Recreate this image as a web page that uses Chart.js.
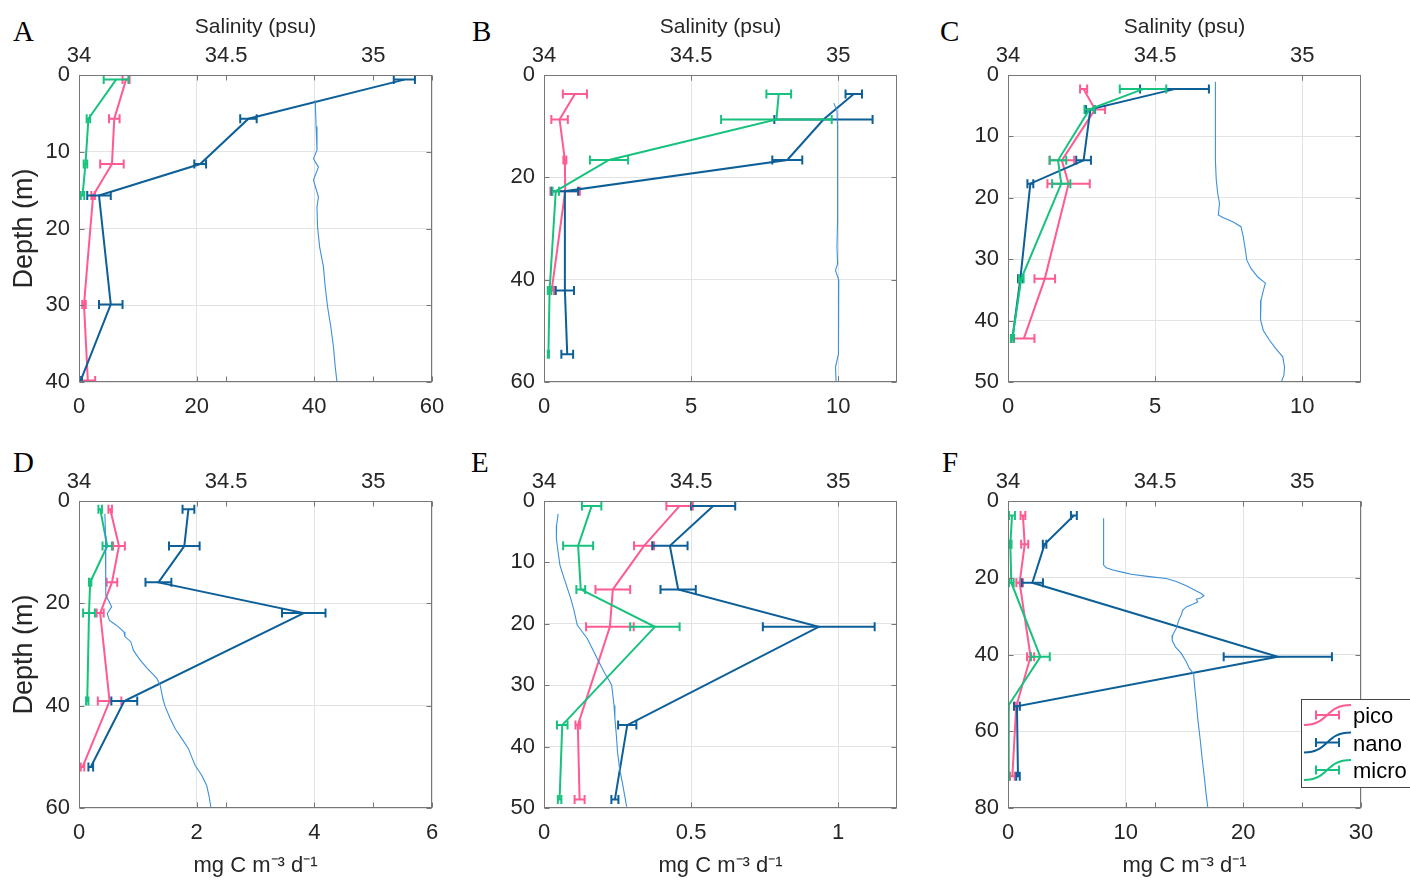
<!DOCTYPE html>
<html>
<head>
<meta charset="utf-8">
<script src="https://cdn.jsdelivr.net/npm/chart.js@4.4.1/dist/chart.umd.min.js"></script>
<style>
  body { margin: 0; background: #fff; width: 1410px; height: 880px; overflow: hidden; position: relative; }
  .tag { position: absolute; font-family: "Liberation Serif", "Times New Roman", serif; font-size: 29px; line-height: 1; color: #000; }
</style>
</head>
<body>
<div class="tag" style="left:13px;top:17px">A</div>
<div class="tag" style="left:472px;top:17px">B</div>
<div class="tag" style="left:940px;top:17px">C</div>
<div class="tag" style="left:13px;top:448px">D</div>
<div class="tag" style="left:471px;top:448px">E</div>
<div class="tag" style="left:942px;top:448px">F</div>
<script>
// ===== DATA =====
// sampling depth (m), rates (mg C m-3 d-1) with +/- error, CTD salinity profile (psu)

// A
const depthA = [0.6, 5.7, 11.6, 15.7, 29.9, 39.8];
const picoA = [8.0, 6.0, 5.6, 2.4, 0.85, 1.5];
const picoErrA = [0.6, 0.9, 2.0, 0.3, 0.3, 1.25];
const nanoA = [55.3, 28.8, 20.6, 3.4, 5.4, 0.3];
const nanoErrA = [1.8, 1.4, 1.0, 2.0, 2.0, 0.2];
const microA = [6.3, 1.6, 1.1, 0.6, null, null];
const microErrA = [2.1, 0.3, 0.3, 0.3, null, null];
const salDepthA = [3.3, 6.7, 9.8, 10.9, 12.0, 13.7, 15.9, 17.2, 19.8, 22.4, 25.0, 27.6, 30.2, 32.8, 35.4, 38.0, 40.0];
const salA = [34.803, 34.806, 34.809, 34.797, 34.814, 34.797, 34.814, 34.809, 34.811, 34.818, 34.831, 34.837, 34.845, 34.856, 34.865, 34.871, 34.877];

// B
const depthB = [3.7, 8.7, 16.6, 22.7, 42.1, 54.6];
const picoB = [1.05, 0.53, 0.71, 0.72, 0.26, null];
const picoErrB = [0.41, 0.28, 0.05, 0.5, 0.08, null];
const nanoB = [10.53, 9.5, 8.27, 0.71, 0.71, 0.79];
const nanoErrB = [0.28, 1.67, 0.51, 0.45, 0.31, 0.2];
const microB = [7.98, 7.9, 2.21, 0.4, 0.19, 0.15];
const microErrB = [0.42, 1.88, 0.65, 0.11, 0.06, 0.02];
const salDepthB = [5.5, 6.9, 10.1, 16.6, 23.2, 28.4, 33.6, 36.9, 38.2, 40.1, 42.7, 46.6, 50.5, 54.5, 57.1, 60];
const salB = [34.985, 34.996, 34.998, 34.998, 34.998, 34.998, 34.996, 34.998, 34.991, 35.002, 35.0, 35.002, 35.002, 35.0, 34.991, 34.993];

// C
const depthC = [2.3, 5.6, 13.9, 17.7, 33.2, 42.9];
const picoC = [2.57, 2.96, 1.83, 2.06, 1.25, 0.54];
const picoErrC = [0.12, 0.34, 0.42, 0.72, 0.35, 0.36];
const nanoC = [5.66, 2.8, 2.57, 0.76, 0.42, 0.15];
const nanoErrC = [1.17, 0.15, 0.25, 0.1, 0.08, 0.05];
const microC = [4.59, 2.77, 1.70, 1.81, 0.45, 0.15];
const microErrC = [0.79, 0.17, 0.28, 0.31, 0.08, 0.05];
const salDepthC = [1.1, 5.7, 13.9, 17.1, 19.3, 20.9, 22.8, 23.2, 23.9, 24.7, 26.4, 28.5, 30.2, 31.5, 32.9, 33.9, 35.1, 36.7, 38.3, 39.9, 41.6, 43.2, 44.6, 45.9, 47.6, 48.9, 50];
const salC = [34.705, 34.705, 34.705, 34.708, 34.713, 34.719, 34.715, 34.730, 34.764, 34.792, 34.800, 34.807, 34.812, 34.826, 34.849, 34.875, 34.868, 34.860, 34.857, 34.860, 34.868, 34.889, 34.911, 34.934, 34.940, 34.938, 34.929];

// D
const depthD = [1.6, 8.8, 15.9, 21.9, 39.1, 52.0];
const picoD = [0.53, 0.68, 0.56, 0.36, 0.52, 0.06];
const picoErrD = [0.03, 0.1, 0.09, 0.06, 0.2, 0.03];
const nanoD = [1.86, 1.79, 1.35, 3.82, 0.77, 0.2];
const nanoErrD = [0.1, 0.26, 0.22, 0.37, 0.22, 0.04];
const microD = [0.36, 0.48, 0.19, 0.17, 0.14, null];
const microErrD = [0.03, 0.08, 0.02, 0.1, 0.02, null];
const salDepthD = [2.5, 6.7, 13.2, 18.4, 19.4, 20.7, 22.0, 23.3, 23.9, 24.6, 25.6, 26.5, 27.5, 29.2, 31.1, 32.7, 34.6, 36.0, 38.6, 40.2, 42.5, 44.5, 46.4, 48.4, 50.0, 51.7, 53.6, 55.6, 57.9, 59.8];
const salD = [34.088, 34.090, 34.091, 34.091, 34.100, 34.111, 34.096, 34.103, 34.117, 34.134, 34.153, 34.156, 34.176, 34.185, 34.208, 34.232, 34.264, 34.276, 34.285, 34.293, 34.310, 34.327, 34.349, 34.372, 34.383, 34.395, 34.417, 34.434, 34.443, 34.448];

// E
const depthE = [0.8, 7.3, 14.4, 20.5, 36.5, 48.6];
const picoE = [0.461, 0.340, 0.234, 0.224, 0.115, 0.121];
const picoErrE = [0.045, 0.034, 0.059, 0.081, 0.008, 0.017];
const nanoE = [0.575, 0.428, 0.456, 0.934, 0.283, 0.241];
const nanoErrE = [0.075, 0.06, 0.06, 0.19, 0.031, 0.012];
const microE = [0.162, 0.116, 0.125, 0.377, 0.062, 0.053];
const microErrE = [0.033, 0.051, 0.015, 0.084, 0.018, 0.006];
const salDepthE = [2.1, 3.9, 6.1, 8.3, 10.4, 12.1, 13.7, 15.9, 17.8, 19.1, 20.2, 21.3, 22.4, 24.6, 25.7, 26.7, 28.1, 29.2, 30.0, 31.6, 33.3, 35.4, 38.2, 40.9, 43.6, 45.8, 47.9, 49.8];
const salE = [34.048, 34.043, 34.042, 34.048, 34.054, 34.065, 34.076, 34.091, 34.102, 34.108, 34.113, 34.130, 34.147, 34.170, 34.181, 34.192, 34.207, 34.221, 34.230, 34.234, 34.238, 34.241, 34.246, 34.250, 34.257, 34.266, 34.274, 34.281];

// F
const depthF = [3.8, 11.3, 21.3, 40.6, 53.5, 71.7];
const picoF = [1.27, 1.42, 0.99, 1.92, 0.7, 0.37];
const picoErrF = [0.2, 0.3, 0.28, 0.3, 0.1, 0.2];
const nanoF = [5.6, 3.11, 2.07, 22.93, 0.76, 0.85];
const nanoErrF = [0.25, 0.15, 0.9, 4.6, 0.25, 0.15];
const microF = [0.34, 0.2, 0.28, 2.75, 0.0, 0.06];
const microErrF = [0.25, 0.1, 0.2, 0.8, 0.05, 0.05];
const salDepthF = [4.5, 11.5, 16.7, 17.4, 18.0, 18.6, 19.1, 19.7, 20.2, 21.0, 22.1, 23.2, 24.1, 24.7, 25.2, 25.6, 26.3, 26.9, 27.6, 28.4, 29.7, 30.6, 31.9, 33.2, 34.9, 36.3, 38.0, 39.7, 41.9, 43.7, 45.0, 48.0, 52.3, 56.7, 61.9, 67.1, 72.3, 76.7, 79.7];
const salF = [34.325, 34.325, 34.325, 34.334, 34.357, 34.391, 34.419, 34.481, 34.538, 34.572, 34.606, 34.634, 34.657, 34.666, 34.657, 34.640, 34.645, 34.628, 34.606, 34.594, 34.589, 34.583, 34.577, 34.572, 34.560, 34.558, 34.569, 34.589, 34.606, 34.617, 34.631, 34.634, 34.640, 34.645, 34.653, 34.660, 34.668, 34.674, 34.679];

// axis ticks
const salTicks = [34, 34.5, 35];
const xTicksA = [0, 20, 40, 60], yTicksA = [0, 10, 20, 30, 40];
const xTicksB = [0, 5, 10],      yTicksB = [0, 20, 40, 60];
const xTicksC = [0, 5, 10],      yTicksC = [0, 10, 20, 30, 40, 50];
const xTicksD = [0, 2, 4, 6],    yTicksD = [0, 20, 40, 60];
const xTicksE = [0, 0.5, 1],     yTicksE = [0, 10, 20, 30, 40, 50];
const xTicksF = [0, 10, 20, 30], yTicksF = [0, 20, 40, 60, 80];

const panels = [
  { tag: 'A', col: 0, row: 0, xMax: 60,  yMax: 40, xTicks: xTicksA, yTicks: yTicksA, depth: depthA, pico: picoA, picoErr: picoErrA, nano: nanoA, nanoErr: nanoErrA, micro: microA, microErr: microErrA, salDepth: salDepthA, sal: salA },
  { tag: 'B', col: 1, row: 0, xMax: 12,  yMax: 60, xTicks: xTicksB, yTicks: yTicksB, depth: depthB, pico: picoB, picoErr: picoErrB, nano: nanoB, nanoErr: nanoErrB, micro: microB, microErr: microErrB, salDepth: salDepthB, sal: salB },
  { tag: 'C', col: 2, row: 0, xMax: 12,  yMax: 50, xTicks: xTicksC, yTicks: yTicksC, depth: depthC, pico: picoC, picoErr: picoErrC, nano: nanoC, nanoErr: nanoErrC, micro: microC, microErr: microErrC, salDepth: salDepthC, sal: salC },
  { tag: 'D', col: 0, row: 1, xMax: 6,   yMax: 60, xTicks: xTicksD, yTicks: yTicksD, depth: depthD, pico: picoD, picoErr: picoErrD, nano: nanoD, nanoErr: nanoErrD, micro: microD, microErr: microErrD, salDepth: salDepthD, sal: salD },
  { tag: 'E', col: 1, row: 1, xMax: 1.2, yMax: 50, xTicks: xTicksE, yTicks: yTicksE, depth: depthE, pico: picoE, picoErr: picoErrE, nano: nanoE, nanoErr: nanoErrE, micro: microE, microErr: microErrE, salDepth: salDepthE, sal: salE },
  { tag: 'F', col: 2, row: 1, xMax: 30,  yMax: 80, xTicks: xTicksF, yTicks: yTicksF, depth: depthF, pico: picoF, picoErr: picoErrF, nano: nanoF, nanoErr: nanoErrF, micro: microF, microErr: microErrF, salDepth: salDepthF, sal: salF },
];

// ===== STYLE =====
const PICO = '#ff5a92', NANO = '#0d5f98', MICRO = '#17c27e', SAL = '#3d90d9';
const GRID = '#e3e3e3', FRAME = '#777777', TXT = '#262626';
const FONT = '"Liberation Sans", Arial, Helvetica, sans-serif';
const colLeft = [79, 544, 1008], rowTop = [75, 501];
const PW = 353, PH = 307, AX_L = 75, AX_T = 75, PAD_R = 50;

// horizontal error bars, drawn right after their own series
const errBars = {
  id: 'errBars',
  afterDatasetDraw(chart, args) {
    const ds = chart.data.datasets[args.index];
    if (!ds.withErr) return;
    const { ctx, chartArea: a, scales: { x, y } } = chart;
    ctx.save();
    ctx.beginPath(); ctx.rect(a.left, a.top, a.right - a.left, a.bottom - a.top); ctx.clip();
    ctx.strokeStyle = ds.borderColor; ctx.lineWidth = 2;
    ds.data.forEach(pt => {
      const py = y.getPixelForValue(pt.y);
      const x0 = x.getPixelForValue(pt.x - pt.e), x1 = x.getPixelForValue(pt.x + pt.e);
      ctx.beginPath();
      ctx.moveTo(x0, py); ctx.lineTo(x1, py);
      ctx.moveTo(x0, py - 4.5); ctx.lineTo(x0, py + 4.5);
      ctx.moveTo(x1, py - 4.5); ctx.lineTo(x1, py + 4.5);
      ctx.stroke();
    });
    ctx.restore();
  }
};

// axes box with inward tick marks (matlab look)
const frame = {
  id: 'frame',
  afterDraw(chart) {
    const { ctx, chartArea: a, scales } = chart;
    const L = a.left + 0.5, R = a.right - 0.5, T = a.top + 0.5, B = a.bottom - 0.5, tl = 5;
    ctx.save();
    ctx.strokeStyle = FRAME; ctx.lineWidth = 1;
    ctx.beginPath();
    ['x', 'x2'].forEach(id => scales[id].ticks.forEach(t => {
      const px = Math.round(scales[id].getPixelForValue(t.value)) + 0.5;
      ctx.moveTo(px, B); ctx.lineTo(px, B - tl);
      ctx.moveTo(px, T); ctx.lineTo(px, T + tl);
    }));
    scales.y.ticks.forEach(t => {
      const py = Math.round(scales.y.getPixelForValue(t.value)) + 0.5;
      ctx.moveTo(L, py); ctx.lineTo(L + tl, py);
      ctx.moveTo(R, py); ctx.lineTo(R - tl, py);
    });
    ctx.stroke();
    ctx.strokeRect(L, T, R - L, B - T);
    ctx.restore();
  }
};

// legend box (panel F only)
const keyBox = {
  id: 'keyBox',
  afterDraw(chart) {
    const { ctx, chartArea: a } = chart;
    const left = a.right - 60, top = a.top + 198;
    ctx.save();
    ctx.fillStyle = '#fff'; ctx.fillRect(left, top, 130, 88);
    ctx.strokeStyle = '#444'; ctx.lineWidth = 1;
    ctx.strokeRect(left + 0.5, top + 0.5, 130, 88);
    const items = chart.data.datasets.filter(d => d.withErr).reverse();
    items.forEach((d, i) => {
      const cy = top + 18 + i * 27.5;
      ctx.strokeStyle = d.borderColor; ctx.lineWidth = 2;
      ctx.beginPath();
      ctx.moveTo(left + 3, cy + 8);
      ctx.bezierCurveTo(left + 28, cy + 8, left + 24, cy - 12, left + 50, cy - 12);
      ctx.moveTo(left + 15, cy - 2); ctx.lineTo(left + 38, cy - 2);
      ctx.moveTo(left + 15, cy - 6.5); ctx.lineTo(left + 15, cy + 2.5);
      ctx.moveTo(left + 38, cy - 6.5); ctx.lineTo(left + 38, cy + 2.5);
      ctx.stroke();
      ctx.fillStyle = '#000'; ctx.font = '22px ' + FONT;
      ctx.textBaseline = 'middle'; ctx.textAlign = 'left';
      ctx.fillText(d.label, left + 52, cy);
    });
    ctx.restore();
  }
};

function pts(depth, vals, errs) {
  return depth.map((d, i) => ({ x: vals[i], y: d, e: errs[i] })).filter(p => p.x != null);
}

function series(label, color, depth, vals, errs) {
  return { label, withErr: true, data: pts(depth, vals, errs), borderColor: color, backgroundColor: color,
           borderWidth: 2, pointRadius: 0, showLine: true, tension: 0, xAxisID: 'x', yAxisID: 'y' };
}

function makePanel(p) {
  const topRow = p.row === 0;
  const bottomH = topRow ? 40 : 72;
  const W = AX_L + PW + PAD_R, H = AX_T + PH + bottomH;
  const cv = document.createElement('canvas');
  cv.width = W; cv.height = H;
  cv.style.cssText = `position:absolute;left:${colLeft[p.col] - AX_L}px;top:${rowTop[p.row] - AX_T}px;width:${W}px;height:${H}px`;
  document.body.appendChild(cv);

  const tickFont = { family: FONT, size: 22 };
  const fmt = v => String(+(+v).toFixed(2));

  new Chart(cv, {
    type: 'scatter',
    data: {
      datasets: [
        { label: 'salinity', data: p.salDepth.map((d, i) => ({ x: p.sal[i], y: d })), borderColor: SAL,
          borderWidth: 1.1, pointRadius: 0, showLine: true, tension: 0, xAxisID: 'x2', yAxisID: 'y' },
        series('micro', MICRO, p.depth, p.micro, p.microErr),
        series('nano', NANO, p.depth, p.nano, p.nanoErr),
        series('pico', PICO, p.depth, p.pico, p.picoErr),
      ]
    },
    options: {
      responsive: false,
      animation: false,
      events: [],
      layout: { padding: { left: 0, top: 0, bottom: 0, right: PAD_R } },
      plugins: { legend: { display: false }, tooltip: { enabled: false } },
      scales: {
        x: {
          type: 'linear', position: 'bottom', min: 0, max: p.xMax,
          afterBuildTicks: s => { s.ticks = p.xTicks.map(v => ({ value: v })); },
          afterFit: s => { s.height = bottomH; },
          ticks: { font: tickFont, color: TXT, padding: 12, maxRotation: 0, autoSkip: false, callback: fmt },
          grid: { color: GRID, drawTicks: false },
          border: { display: false },
          title: { display: !topRow, text: 'mg C m⁻³ d⁻¹', color: TXT, font: { family: FONT, size: 22 }, padding: { top: 0, bottom: 1 } }
        },
        x2: {
          type: 'linear', position: 'top', min: 34, max: 35.2,
          afterBuildTicks: s => { s.ticks = salTicks.map(v => ({ value: v })); },
          afterFit: s => { s.height = AX_T; },
          ticks: { font: tickFont, color: TXT, padding: 6, maxRotation: 0, autoSkip: false, callback: fmt },
          grid: { display: false, drawTicks: false },
          border: { display: false },
          title: { display: topRow, text: 'Salinity (psu)', color: TXT, font: { family: FONT, size: 21 }, padding: { top: 15, bottom: 0 } }
        },
        y: {
          type: 'linear', position: 'left', reverse: true, min: 0, max: p.yMax,
          afterBuildTicks: s => { s.ticks = p.yTicks.map(v => ({ value: v })); },
          afterFit: s => { s.width = AX_L; },
          ticks: { font: tickFont, color: TXT, padding: 9, autoSkip: false, callback: fmt },
          grid: { color: GRID, drawTicks: false },
          border: { display: false },
          title: { display: p.col === 0, text: 'Depth (m)', color: TXT, font: { family: FONT, size: 27 }, padding: { top: 4, bottom: 0 } }
        }
      }
    },
    plugins: p.tag === 'F' ? [errBars, frame, keyBox] : [errBars, frame]
  });
}

panels.forEach(makePanel);
</script>
</body>
</html>
